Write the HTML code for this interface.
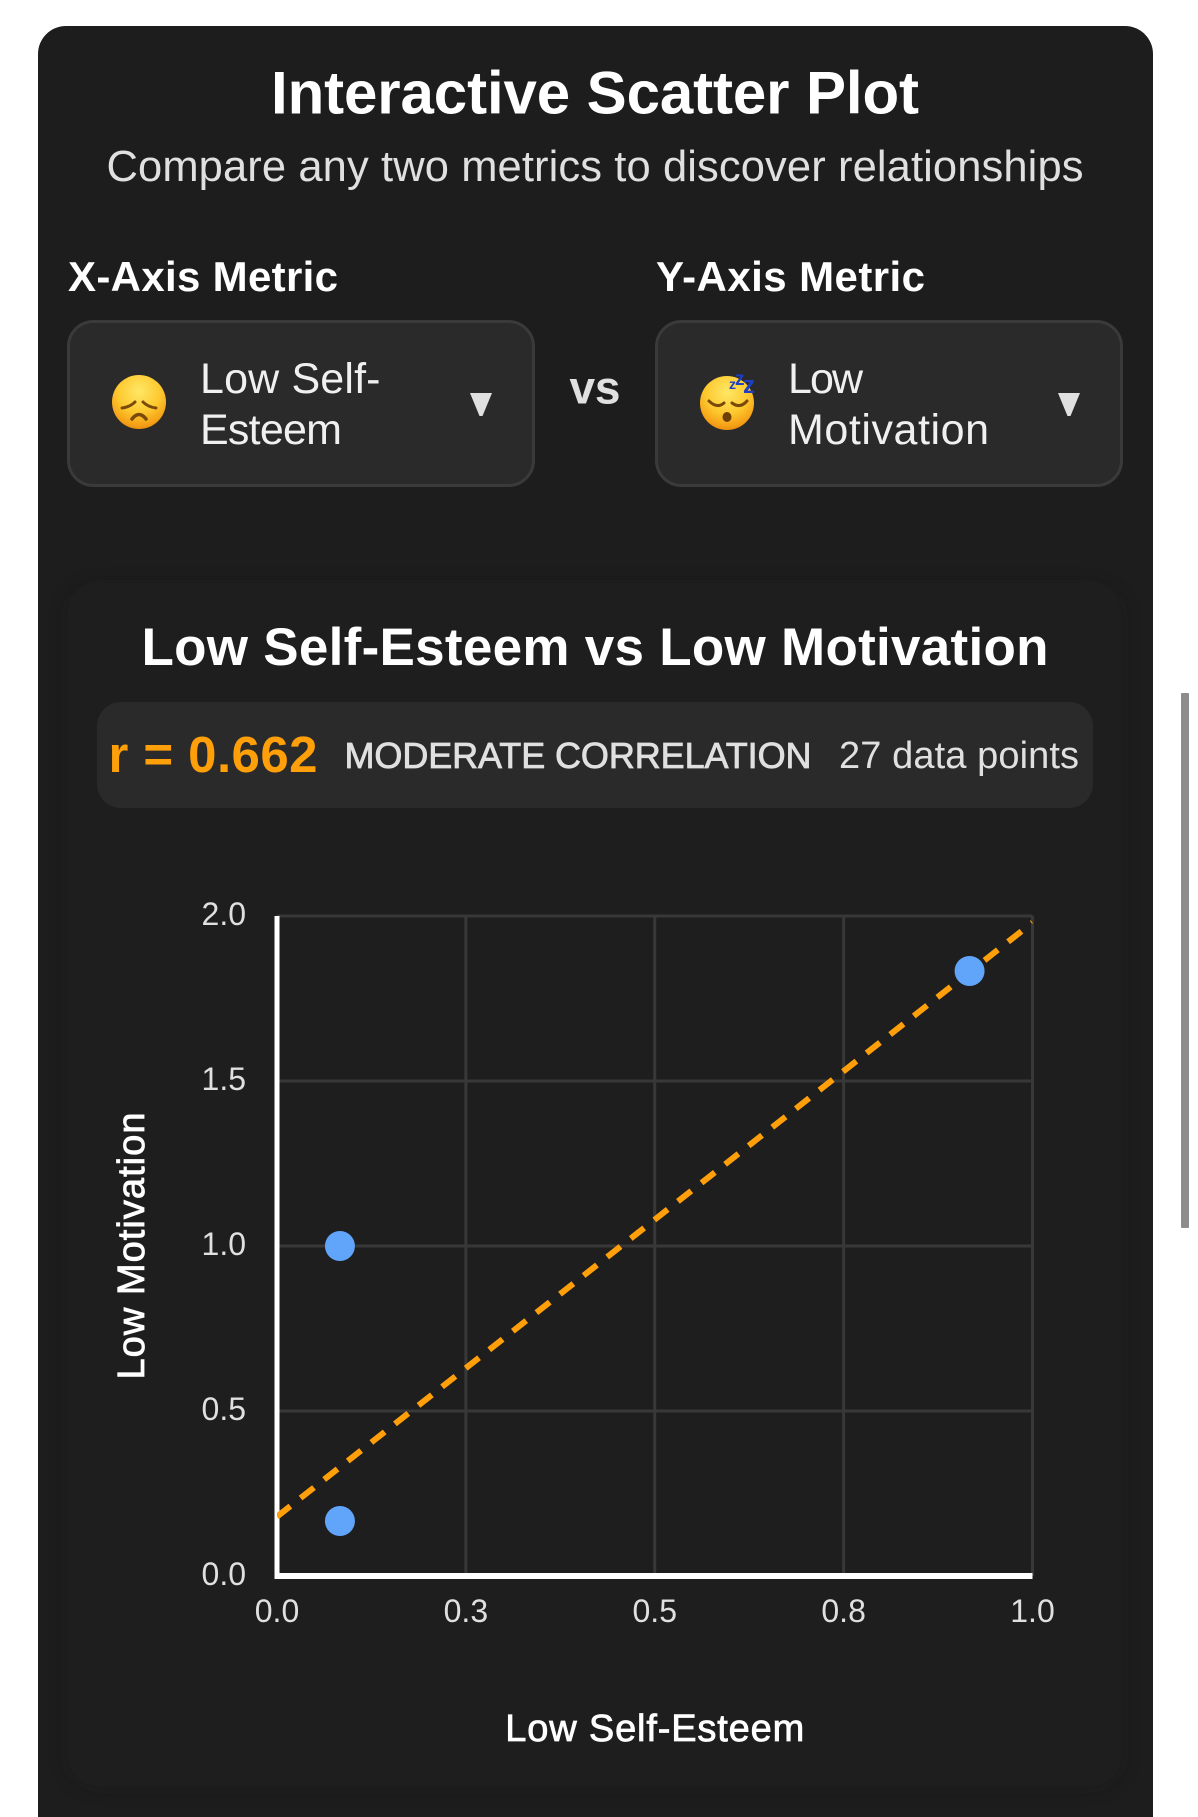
<!DOCTYPE html>
<html lang="en">
<head>
<meta charset="utf-8">
<title>Interactive Scatter Plot</title>
<style>
html,body{margin:0;padding:0;background:#fff;width:1198px;height:1817px;overflow:hidden}
svg{display:block}
text{font-family:"Liberation Sans",sans-serif}
</style>
</head>
<body>
<svg id="page" xmlns="http://www.w3.org/2000/svg" width="1198" height="1817" viewBox="0 0 1198 1817">
<defs>
<radialGradient id="faceGrad" cx="50%" cy="30%" r="72%">
<stop offset="0%" stop-color="#ffe766"/><stop offset="55%" stop-color="#fdc92f"/><stop offset="88%" stop-color="#f59f16"/><stop offset="100%" stop-color="#e58a10"/>
</radialGradient>
<filter id="softShadow" x="-5%" y="-5%" width="110%" height="110%"><feGaussianBlur stdDeviation="10"/></filter>
<clipPath id="plotClip"><rect x="277" y="916" width="755.500" height="660"/></clipPath>
</defs>

<path d="M38 1817V54a28 28 0 0 1 28-28H1125a28 28 0 0 1 28 28V1817Z" fill="#1d1d1d"/>

<text x="595" y="113.500" font-size="60" font-weight="700" fill="#fff" text-anchor="middle" textLength="648">Interactive Scatter Plot</text>
<text x="595" y="181" font-size="43.500" fill="#e0e0e0" text-anchor="middle" textLength="977">Compare any two metrics to discover relationships</text>

<text x="68" y="291" font-size="42" font-weight="700" fill="#fff" textLength="270">X-Axis Metric</text>
<text x="656" y="291" font-size="42" font-weight="700" fill="#fff" textLength="269">Y-Axis Metric</text>

<g>
<rect x="68.5" y="321.5" width="465" height="164" rx="25" fill="#2a2a2a" stroke="#3a3a3a" stroke-width="3"/>
<g>
<circle cx="139" cy="402" r="27" fill="url(#faceGrad)"/>
<path d="M122 408q8-1 13-6M156 408q-8-1-13-6" stroke="#7a4a0a" stroke-width="3" fill="none" stroke-linecap="round"/>
<path d="M132 419q7-9 14 0" stroke="#7a4a0a" stroke-width="3.5" fill="none" stroke-linecap="round"/>
</g>
<text x="200" y="393" font-size="43" fill="#f0f0f0" textLength="180.500">Low Self-</text>
<text x="200" y="444" font-size="43" fill="#f0f0f0" textLength="142">Esteem</text>
<path d="M470 393H492L482.500 416H479.500Z" fill="#e0e0e0"/>
</g>

<text x="595" y="403.500" font-size="46" font-weight="700" fill="#e0e0e0" text-anchor="middle" textLength="51">vs</text>

<g>
<rect x="656.500" y="321.5" width="465" height="164" rx="25" fill="#2a2a2a" stroke="#3a3a3a" stroke-width="3"/>
<g>
<circle cx="727" cy="403" r="27" fill="url(#faceGrad)"/>
<path d="M709 401q8 8 15 2M732 403q8 6 15-2" stroke="#7a4a0a" stroke-width="3" fill="none" stroke-linecap="round"/>
<ellipse cx="727" cy="417" rx="4.500" ry="5" fill="#6e4008"/>
<text x="729" y="389" font-size="14" font-weight="700" fill="#1d3fc4">z</text>
<text x="735" y="385" font-size="19" font-weight="700" fill="#1d3fc4">z</text>
<text x="743" y="393" font-size="24" font-weight="700" fill="#1d3fc4">z</text>
</g>
<text x="788" y="393" font-size="43" fill="#f0f0f0" textLength="75">Low</text>
<text x="788" y="444" font-size="43" fill="#f0f0f0" textLength="201">Motivation</text>
<path d="M1058 393H1080L1070.500 416H1067.500Z" fill="#e0e0e0"/>
</g>

<rect x="68" y="587" width="1053" height="1199" rx="30" fill="#161616" opacity=".3" filter="url(#softShadow)"/>
<rect x="68" y="583" width="1053" height="1203" rx="30" fill="#1e1e1e"/>

<text x="595" y="665" font-size="53" font-weight="700" fill="#fff" text-anchor="middle" textLength="907">Low Self-Esteem vs Low Motivation</text>

<rect x="97" y="702" width="996" height="106" rx="24" fill="#2a2a2a"/>
<text x="108.500" y="772" font-size="51" font-weight="700" fill="#ff9f0a" textLength="209">r = 0.662</text>
<text x="344.500" y="768" font-size="36" fill="#e0e0e0" stroke="#e0e0e0" stroke-width="0.8" textLength="467">MODERATE CORRELATION</text>
<text x="839" y="768" font-size="38" fill="#e0e0e0" textLength="240">27 data points</text>

<g id="chart"></g>

<rect x="1181" y="693" width="8" height="535" rx="1" fill="#8c8c8c"/>
</svg>

<script>
var pointX = [0.0833, 0.0833, 0.9167];
var pointY = [0.1667, 1.0, 1.8333];
var trendX = [0, 1];
var trendY = [0.18, 1.98];
var xTickValues = [0, 0.25, 0.5, 0.75, 1];
var xTickLabels = ['0.0', '0.3', '0.5', '0.8', '1.0'];
var yTickValues = [0, 0.5, 1, 1.5, 2];
var yTickLabels = ['0.0', '0.5', '1.0', '1.5', '2.0'];
var xTitle = 'Low Self-Esteem';
var yTitle = 'Low Motivation';

var plot = { left: 277, right: 1032.5, top: 916, bottom: 1576 };
function sx(v) { return plot.left + (v - 0) / (1 - 0) * (plot.right - plot.left); }
function sy(v) { return plot.bottom - (v - 0) / (2 - 0) * (plot.bottom - plot.top); }

var chart = document.getElementById('chart');
function mk(tag, attrs, text) {
  var el = document.createElementNS('http://www.w3.org/2000/svg', tag);
  for (var k in attrs) el.setAttribute(k, attrs[k]);
  if (text !== undefined) el.textContent = text;
  chart.appendChild(el);
  return el;
}

xTickValues.forEach(function (v, i) {
  var g = mk('line', { x1: sx(v), x2: sx(v), y1: plot.top, y2: plot.bottom, stroke: '#383838', 'stroke-width': 3 });
  
  
  var t = mk('text', { x: sx(v), y: 1622, 'font-size': 32, fill: '#e0e0e0', 'text-anchor': 'middle' }, xTickLabels[i]);
  
  
});
yTickValues.forEach(function (v, i) {
  var g = mk('line', { x1: plot.left, x2: plot.right, y1: sy(v), y2: sy(v), stroke: '#383838', 'stroke-width': 3 });
  
  
  var t = mk('text', { x: 246, y: sy(v) + 9, 'font-size': 32, fill: '#e0e0e0', 'text-anchor': 'end' }, yTickLabels[i]);
  
  
});

var axisY = mk('line', { x1: plot.left, x2: plot.left, y1: plot.top, y2: plot.bottom + 3, stroke: '#ffffff', 'stroke-width': 5 });


var axisX = mk('line', { x1: plot.left, x2: plot.right, y1: plot.bottom, y2: plot.bottom, stroke: '#ffffff', 'stroke-width': 6 });



var trend = mk('line', { x1: sx(trendX[0]), y1: sy(trendY[0]), x2: sx(trendX[1]), y2: sy(trendY[1]), stroke: '#ff9f0a', 'stroke-width': 6, 'stroke-dasharray': '17 13', 'clip-path': 'url(#plotClip)' });



pointX.forEach(function (v, i) {
  var c = mk('circle', { cx: sx(v), cy: sy(pointY[i]), r: 15, fill: '#60a5fa' });
  
  
});

var xt = mk('text', { x: (plot.left + plot.right) / 2, y: 1741, 'font-size': 38, fill: '#ffffff', stroke: '#ffffff', 'stroke-width': 0.8, 'text-anchor': 'middle', textLength: 299 }, xTitle);


var yt = mk('text', { x: 0, y: 0, 'font-size': 38, fill: '#ffffff', stroke: '#ffffff', 'stroke-width': 0.8, 'text-anchor': 'middle', textLength: 267, transform: 'translate(144 1246) rotate(-90)' }, yTitle);


</script>
</body>
</html>
